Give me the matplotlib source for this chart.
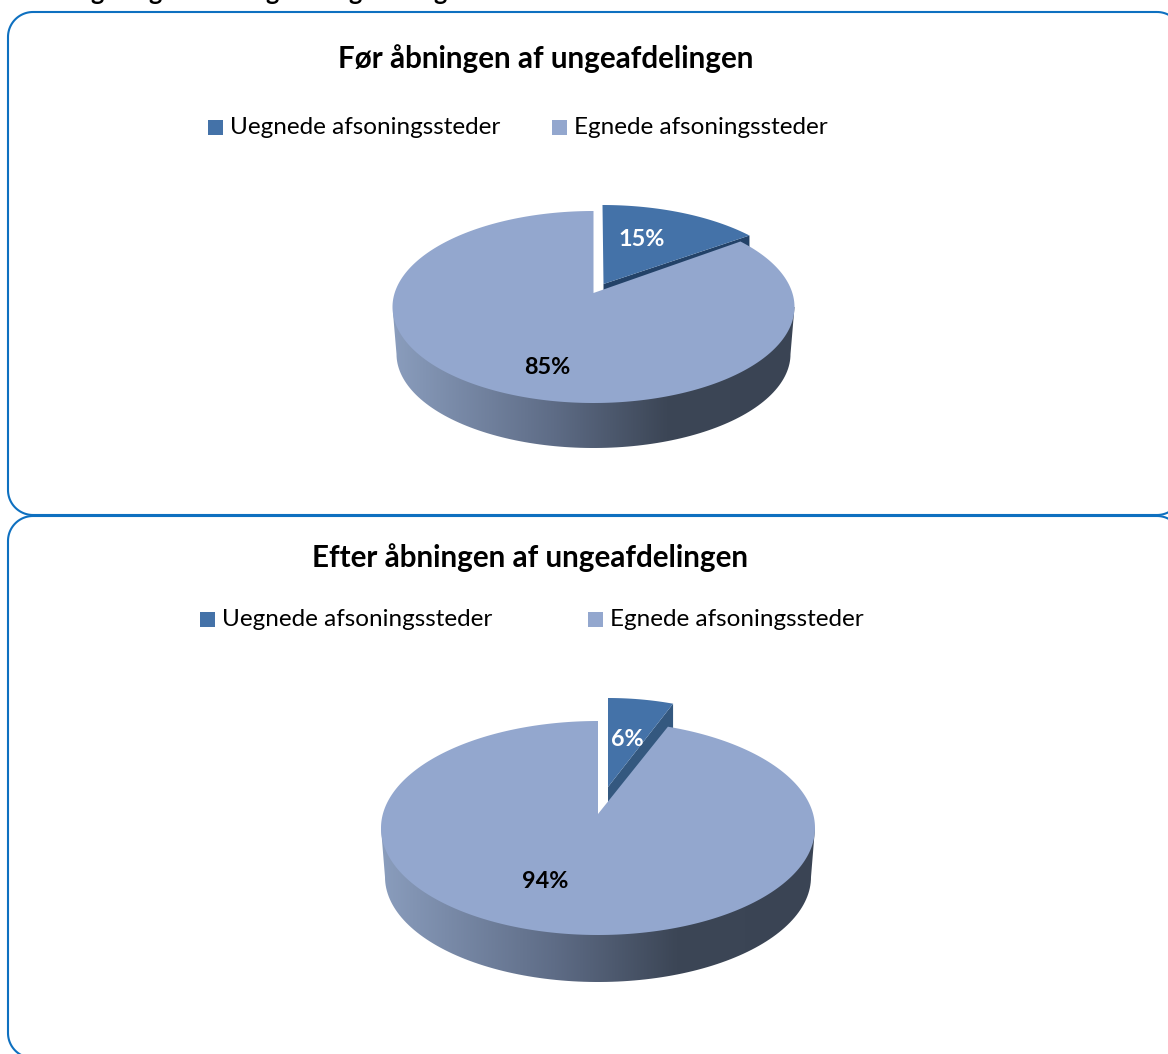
import numpy as np
import matplotlib
matplotlib.use("Agg")
import matplotlib.pyplot as plt
from matplotlib.colors import LinearSegmentedColormap
from matplotlib.patches import PathPatch, Polygon, Rectangle
from matplotlib.path import Path

plt.rcParams['font.family'] = ['Lato', 'DejaVu Sans']

# ---- data ----
titles = ["Før åbningen af ungeafdelingen", "Efter åbningen af ungeafdelingen"]
categories = ["Uegnede afsoningssteder", "Egnede afsoningssteder"]
before_values = [15, 85]
after_values = [6, 94]
value_labels_before = ["15%", "85%"]
value_labels_after = ["6%", "94%"]

# ---- style / layout (pixel coordinates of the figure) ----
W, H = 1168, 1054
DARK = "#4472A8"
LIGHT = "#93A7CE"
BOX = "#0E70C0"
PERSP = 0.87  # foreshortening of slice angles by the 3-D view

panels = [
    dict(values=before_values, labels=value_labels_before, title=titles[0],
         title_xy=(546, 59), leg_sq=(208, 552), leg_y=127,
         cx=593.5, cy=307, rx=201, ry=96, apex_y=293, low_rx=197, low_ry=94, low_cy=354,
         shift=(9, -6), apex_shift=(10, -9), slice_rx=201, side="#234268",
         dark_xy=(642, 240), light_xy=(547, 367)),
    dict(values=after_values, labels=value_labels_after, title=titles[1],
         title_xy=(530, 558), leg_sq=(200, 588), leg_y=619,
         cx=598, cy=828, rx=217, ry=107, apex_y=814, low_rx=213, low_ry=105, low_cy=877,
         shift=(10, -23), apex_shift=(10, -27), slice_rx=202, side="#34587F",
         dark_xy=(627, 739), light_xy=(545, 882)),
]

fig = plt.figure(figsize=(W / 100, H / 100), dpi=100, facecolor="white")
ax = fig.add_axes([0, 0, 1, 1])
wall_cmap = LinearSegmentedColormap.from_list(
    "wall", [(0, "#8A9DBD"), (0.40, "#5E6C86"), (0.68, "#3C4656"), (1, "#3A4454")])


def ell(cx, cy, rx, ry, theta):
    """theta: degrees clockwise from the top."""
    t = np.radians(theta)
    return np.column_stack([cx + rx * np.sin(t), cy - ry * np.cos(t)])


def rounded(x0, y0, x1, y1, r):
    a = np.linspace(0, 90, 24)
    corners = [ell(x1 - r, y0 + r, r, r, a),
               ell(x1 - r, y1 - r, r, r, a + 90),
               ell(x0 + r, y1 - r, r, r, a + 180),
               ell(x0 + r, y0 + r, r, r, a + 270)]
    return np.vstack(corners)


for p in panels:
    cx, cy, rx, ry = p["cx"], p["cy"], p["rx"], p["ry"]
    apex = np.array([cx, p["apex_y"]])
    sweep = 360 * p["values"][0] / sum(p["values"]) * PERSP

    # outer wall with horizontal gradient
    top_half = ell(cx, cy, rx, ry, np.linspace(90, 270, 120))
    low_half = ell(cx, p["low_cy"], p["low_rx"], p["low_ry"], np.linspace(90, 270, 120))
    pts = np.vstack([top_half[:1], low_half, top_half[-1:], ell(cx, cy, rx, ry, [270, 90])])
    wall = PathPatch(Path(pts), fc="none", ec="none")
    ax.add_patch(wall)
    im = ax.imshow(np.linspace(0, 1, 256)[None, :], cmap=wall_cmap, aspect="auto",
                   extent=(cx - rx, cx + rx, p["low_cy"] + p["low_ry"], cy - ry), zorder=2)
    im.set_clip_path(wall)

    # exploded slice: side wall and top face
    dx, dy = p["shift"]
    arc = ell(cx + dx, cy + dy, p["slice_rx"], ry, np.linspace(0, sweep, 60))
    d_apex = apex + np.array(p["apex_shift"])
    depth = p["low_cy"] - cy
    ax.add_patch(Polygon([d_apex, arc[-1], arc[-1] + [0, depth], d_apex + [0, depth]],
                         closed=True, fc=p["side"], ec="none", zorder=3))
    ax.add_patch(Polygon(np.vstack([d_apex, arc]), closed=True, fc=DARK, ec="none", zorder=4))

    # large slice top face
    big = ell(cx, cy, rx, ry, np.linspace(sweep, 360, 300))
    ax.add_patch(Polygon(np.vstack([apex, big]), closed=True, fc=LIGHT, ec="none", zorder=5))

    # texts
    ax.text(*p["title_xy"], p["title"], ha="center", va="center", fontsize=21.3,
            fontweight="bold", color="black", zorder=7)
    ax.text(*p["dark_xy"], p["labels"][0], ha="center", va="center", fontsize=16.8,
            fontweight="bold", color="white", zorder=7)
    ax.text(*p["light_xy"], p["labels"][1], ha="center", va="center", fontsize=16.8,
            fontweight="bold", color="black", zorder=7)

    # legend
    for x0, name, col in zip(p["leg_sq"], categories, (DARK, LIGHT)):
        ax.add_patch(Rectangle((x0, p["leg_y"] - 7.5), 15, 15, fc=col, ec="none", zorder=6))
        ax.text(x0 + 22, p["leg_y"], name, ha="left", va="center", fontsize=17.5,
                color="black", zorder=7)

# rounded frames, running past the right and bottom edges
for (x0, y0, x1, y1) in [(8, 12, 1182, 515), (8, 516, 1182, 1058)]:
    ax.add_patch(Polygon(rounded(x0, y0, x1, y1, 25), closed=True,
                         fc="none", ec=BOX, lw=1.5, zorder=8))

# descenders of the cut-off heading line above the frame
for gx in [97, 155, 272, 355, 440]:
    ax.text(gx, -8, "g", ha="center", va="center", fontsize=18, fontweight="bold",
            color="black", zorder=9)

ax.set_xlim(0, W)
ax.set_ylim(H, 0)
ax.axis("off")
fig.savefig("out.png", dpi=100)
